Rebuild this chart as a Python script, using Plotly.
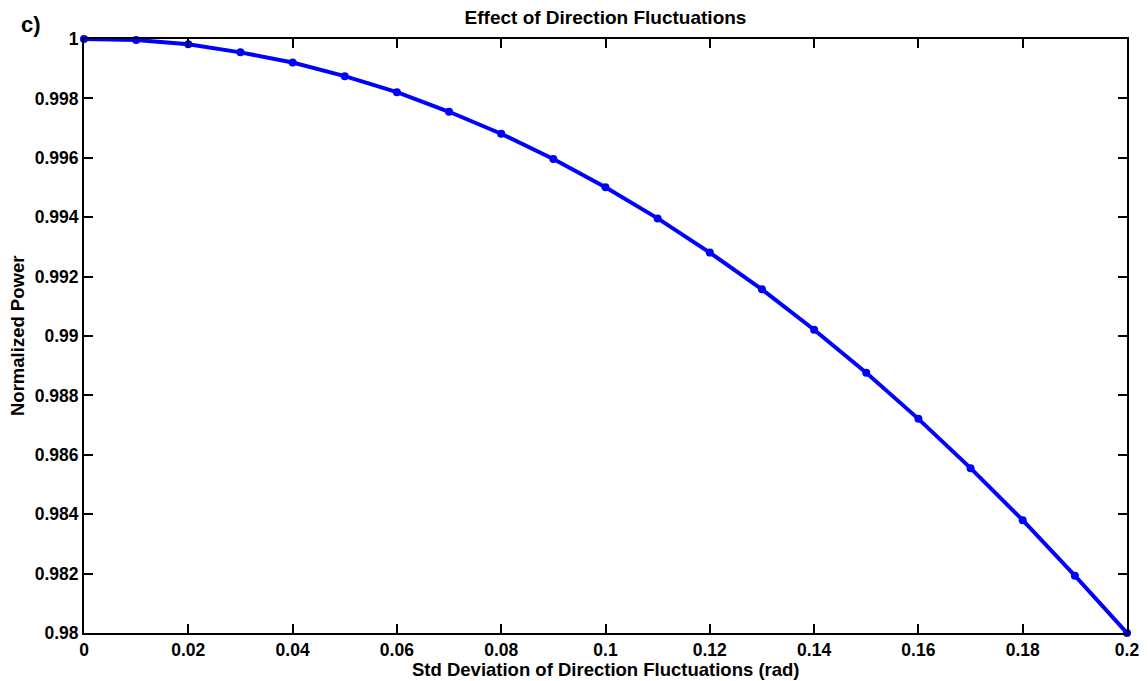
import plotly.graph_objects as go

# Standard deviation of direction fluctuations (rad)
sigma = [0.00, 0.01, 0.02, 0.03, 0.04, 0.05, 0.06, 0.07, 0.08, 0.09, 0.10,
         0.11, 0.12, 0.13, 0.14, 0.15, 0.16, 0.17, 0.18, 0.19, 0.20]
# Normalized power
power = [1.00000, 0.99997, 0.99982, 0.99955, 0.99921, 0.99875, 0.99821,
         0.99755, 0.99681, 0.99596, 0.99501, 0.99396, 0.99281, 0.99157,
         0.99021, 0.98876, 0.98721, 0.98555, 0.98380, 0.98193, 0.98000]

x_ticks = [0, 0.02, 0.04, 0.06, 0.08, 0.1, 0.12, 0.14, 0.16, 0.18, 0.2]
x_labels = ["0", "0.02", "0.04", "0.06", "0.08", "0.1", "0.12", "0.14", "0.16", "0.18", "0.2"]
y_ticks = [0.98, 0.982, 0.984, 0.986, 0.988, 0.99, 0.992, 0.994, 0.996, 0.998, 1.0]
y_labels = ["0.98", "0.982", "0.984", "0.986", "0.988", "0.99", "0.992", "0.994", "0.996", "0.998", "1"]

FONT = "Liberation Sans, Arial, sans-serif"
W, H = 1148, 681
ML, MR, MT, MB = 84, 21, 39, 48

fig = go.Figure()
fig.add_trace(go.Scatter(
    x=sigma, y=power, mode="lines+markers",
    line=dict(color="#0000FF", width=4),
    marker=dict(color="#0000FF", size=8, symbol="circle"),
    cliponaxis=False, showlegend=False,
))

axis_common = dict(
    showline=True, linecolor="black", linewidth=2, mirror="allticks",
    ticks="inside", ticklen=9, tickwidth=2, tickcolor="black",
    showgrid=False, zeroline=False, automargin=False,
    tickfont=dict(family=FONT, size=17.5, color="black", weight="bold"),
)

fig.update_layout(
    width=W, height=H,
    margin=dict(l=ML, r=MR, t=MT, b=MB),
    paper_bgcolor="white", plot_bgcolor="white",
    title=dict(text="<b>Effect of Direction Fluctuations</b>",
               x=605.5 / W, xanchor="center",
               y=1 - 17 / H, yanchor="middle",
               font=dict(family=FONT, size=19, color="black")),
    xaxis=dict(range=[0, 0.2], tickvals=x_ticks, ticktext=x_labels,
               ticklabelstandoff=0, **axis_common),
    yaxis=dict(range=[0.98, 1.0], tickvals=y_ticks, ticktext=y_labels, **axis_common),
    annotations=[
        dict(text="<b>c)</b>", xref="paper", yref="paper",
             x=-0.062, y=1.0, xanchor="left", yanchor="bottom", showarrow=False,
             font=dict(family=FONT, size=22, color="black")),
        # axis titles
        dict(text="<b>Std Deviation of Direction Fluctuations (rad)</b>",
             xref="paper", yref="paper", x=0.5, y=-(669 - (H - MB)) / (H - MT - MB),
             xanchor="center", yanchor="middle", showarrow=False,
             font=dict(family=FONT, size=18.5, color="black")),
        dict(text="<b>Normalized Power</b>", textangle=-90,
             xref="paper", yref="paper", x=-(ML - 17) / (W - ML - MR), y=0.5,
             xanchor="center", yanchor="middle", showarrow=False,
             font=dict(family=FONT, size=18.5, color="black")),
    ],
)

fig.write_html("out.html")
